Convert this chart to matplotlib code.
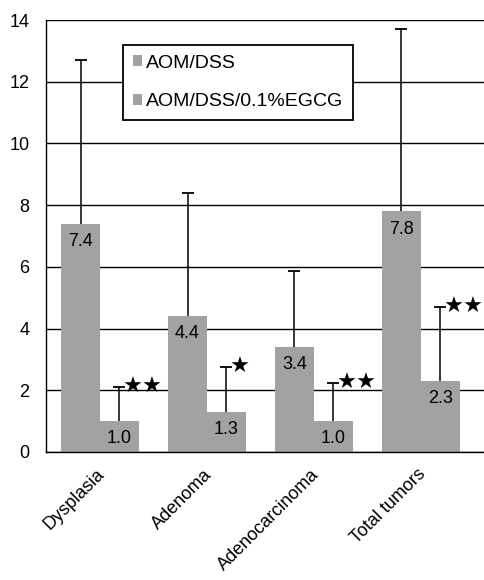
import matplotlib
matplotlib.use("Agg")
import matplotlib.pyplot as plt
import matplotlib.transforms as mtransforms
import numpy as np

categories = ["Dysplasia", "Adenoma", "Adenocarcinoma", "Total tumors"]
series_names = ["AOM/DSS", "AOM/DSS/0.1%EGCG"]
aom_dss = [7.4, 4.4, 3.4, 7.8]
aom_dss_egcg = [1.0, 1.3, 1.0, 2.3]
aom_dss_err = [5.3, 4.0, 2.45, 5.9]
aom_dss_egcg_err = [1.1, 1.45, 1.25, 2.4]
stars = ["★★", "★", "★★", "★★"]
yticks = [0, 2, 4, 6, 8, 10, 12, 14]

plt.rcParams['font.family'] = ['Liberation Sans', 'DejaVu Sans']

fig = plt.figure(figsize=(4.84, 5.8), dpi=100)
ax = fig.add_axes([46/484, 0.2207, 1 - 46/484, 0.9655 - 0.2207])

x = np.arange(len(categories))
w = 0.364
bar_color = "#a2a2a2"
ax.bar(x - w/2, aom_dss, w, color=bar_color, edgecolor="none", label=series_names[0], zorder=2)
ax.bar(x + w/2, aom_dss_egcg, w, color=bar_color, edgecolor="none", label=series_names[1], zorder=2)

for xs, vals, errs in [(x - w/2, aom_dss, aom_dss_err), (x + w/2, aom_dss_egcg, aom_dss_egcg_err)]:
    eb = ax.errorbar(xs, vals, yerr=[np.zeros(len(vals)), errs], fmt="none",
                     ecolor="black", elinewidth=1.1, capsize=4, capthick=1.3, zorder=3)
    eb[1][0].set_visible(False)  # hide lower caps

for xi, v in zip(x - w/2, aom_dss):
    ax.text(xi, v - 0.3, f"{v:.1f}", ha="center", va="top", fontsize=13, zorder=4)
for xi, v in zip(x + w/2, aom_dss_egcg):
    ax.text(xi, v - 0.3, f"{v:.1f}", ha="center", va="top", fontsize=13, zorder=4)

for xi, v, e, s in zip(x + w/2, aom_dss_egcg, aom_dss_egcg_err, stars):
    ax.text(xi + 0.03, v + e, s, ha="left", va="center", fontsize=16,
            family=['DejaVu Sans'], zorder=4, clip_on=False)

ax.set_xlim(-0.505, 3.59)
ax.set_ylim(0, 14)
ax.set_yticks(yticks)
ax.set_yticklabels([str(t) for t in yticks], fontsize=13)
ax.tick_params(axis="y", length=0, pad=12)
ax.set_xticks(x)
ax.set_xticklabels(categories, rotation=45, ha="right", rotation_mode="anchor", fontsize=13)
ax.tick_params(axis="x", length=0, pad=10)
shift = mtransforms.ScaledTranslation(-4/100, 0, fig.dpi_scale_trans)
for lab in ax.get_xticklabels():
    lab.set_transform(lab.get_transform() + shift)
ax.grid(axis="y", color="black", linewidth=1.0, zorder=1)
ax.set_axisbelow(True)
for side in ["top", "right"]:
    ax.spines[side].set_visible(False)
ax.spines["left"].set_linewidth(1.0)
ax.spines["bottom"].set_linewidth(1.0)

leg = ax.legend(loc="upper left", bbox_to_anchor=((123 - 46) / 438, (452 - 45) / 432),
                fontsize=14, frameon=True, fancybox=False, edgecolor="black",
                handlelength=0.5, handleheight=0.5, handletextpad=0.2,
                labelspacing=1.1, borderpad=0.5, borderaxespad=0)
leg.get_frame().set_linewidth(1.3)
leg.get_frame().set_alpha(1)

fig.savefig("out.png", dpi=100)
